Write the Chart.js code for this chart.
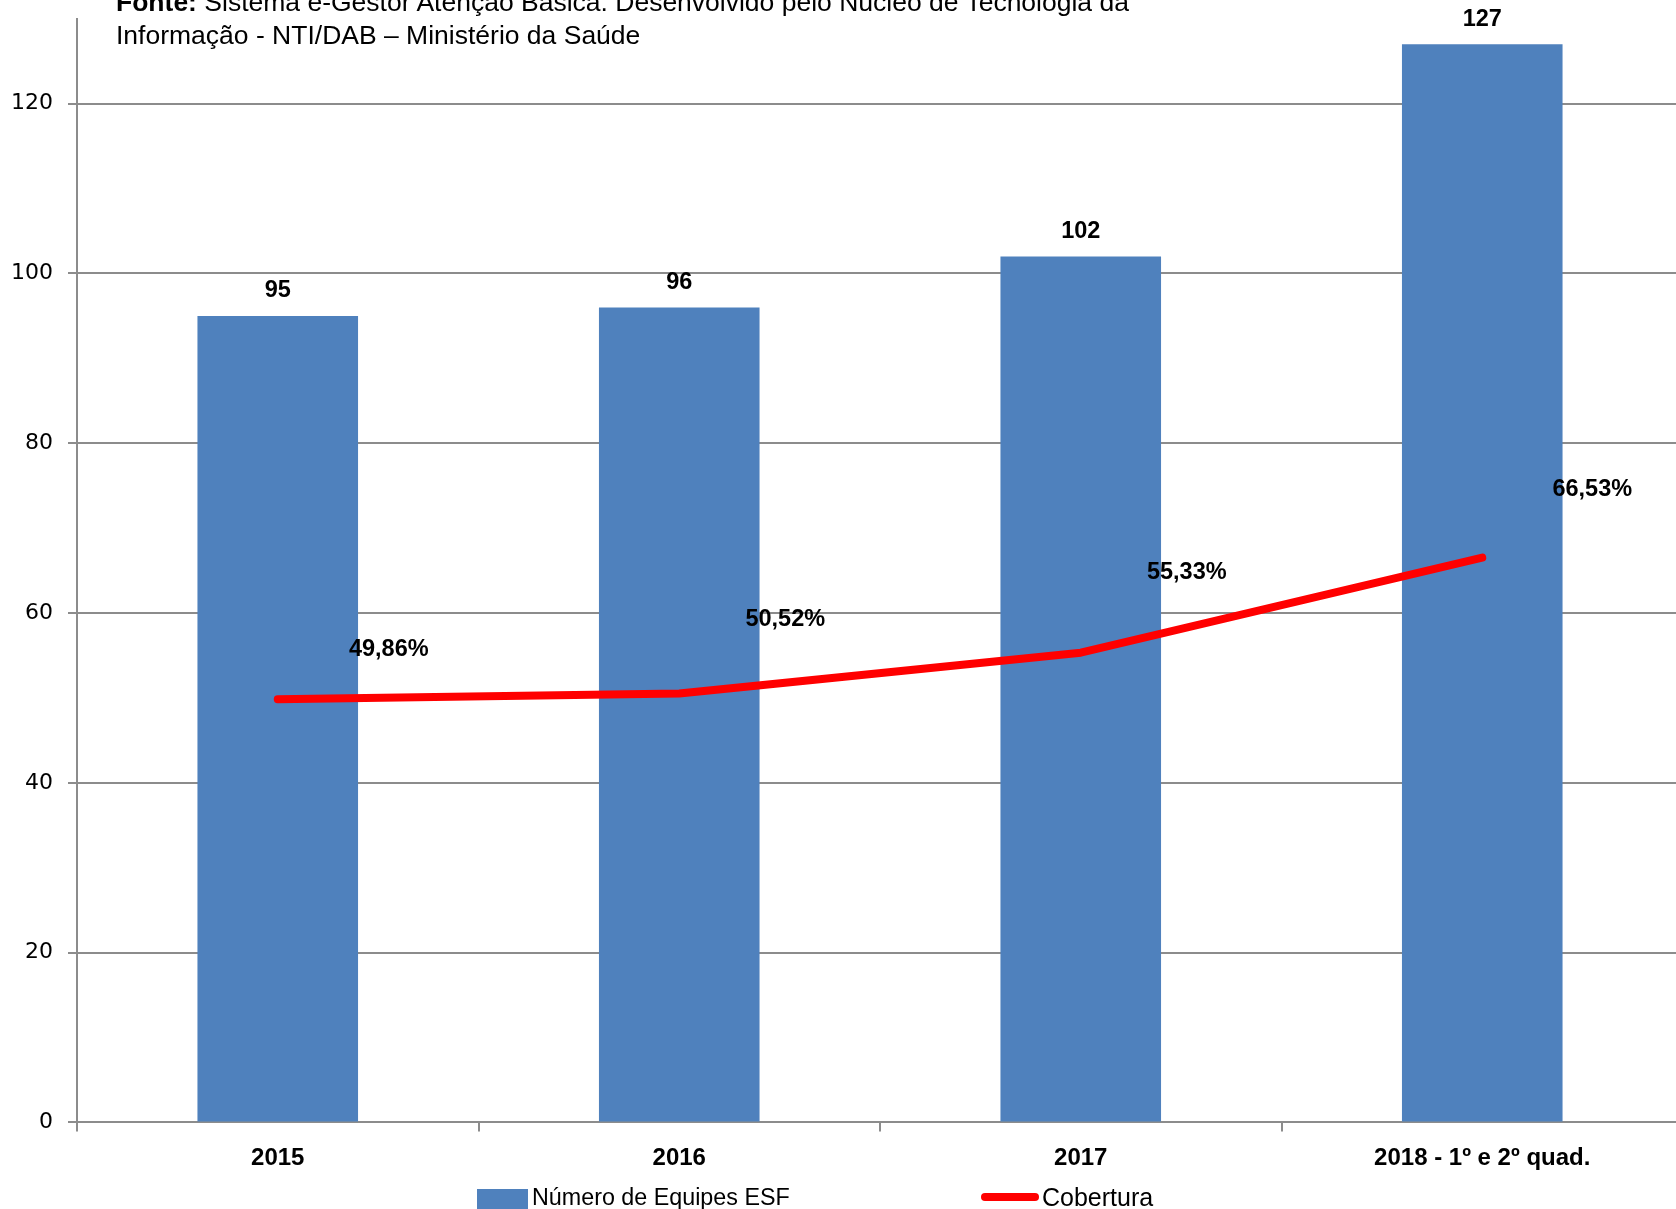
<!DOCTYPE html>
<html>
<head>
<meta charset="utf-8">
<script src="https://cdn.jsdelivr.net/npm/chart.js@4/dist/chart.umd.min.js"></script>
<style>
  html, body { margin: 0; padding: 0; background: #fff; overflow: hidden; }
  #wrap { position: absolute; left: 0; top: 0; width: 1683px; height: 1209px; }
  .t { position: absolute; left: 116px; font-family: "Liberation Sans Narrow", "Liberation Sans", Arial, sans-serif; font-size: 26.5px; color: #000; white-space: nowrap; line-height: 33px; }
  .leg { position: absolute; font-family: "Liberation Sans Narrow", "Liberation Sans", Arial, sans-serif; font-size: 23.3px; color: #000; white-space: nowrap; line-height: 28px; }
</style>
</head>
<body>
<div id="wrap"><canvas id="c"></canvas></div>
<div class="t" style="top:-14px;"><b>Fonte:</b> Sistema e-Gestor Atenção Básica. Desenvolvido pelo Núcleo de Tecnologia da</div>
<div class="t" style="top:19px;">Informação - NTI/DAB – Ministério da Saúde</div>
<div style="position:absolute;left:477px;top:1189px;width:51px;height:22px;background:#4F81BD;"></div>
<div class="leg" style="left:532px;top:1183px;">Número de Equipes ESF</div>
<div style="position:absolute;left:981px;top:1193px;width:58px;height:8px;background:#FF0000;border-radius:4px;"></div>
<div class="leg" style="left:1042px;top:1183px;font-size:25px;">Cobertura</div>
<script>
const categories = ["2015", "2016", "2017", "2018 - 1º e 2º quad."];
const equipesESF = [95, 96, 102, 127];
const cobertura = [49.86, 50.52, 55.33, 66.53];
const coberturaLabels = ["49,86%", "50,52%", "55,33%", "66,53%"];
const yTicks = [0, 20, 40, 60, 80, 100, 120];

const labelFont = 'bold 23.5px "Liberation Sans Narrow", "Liberation Sans", Arial, sans-serif';

const labelsPlugin = {
  id: 'valueLabels',
  afterDatasetsDraw(chart) {
    const ctx = chart.ctx;
    ctx.save();
    ctx.font = labelFont;
    ctx.fillStyle = '#000';
    ctx.textAlign = 'center';
    ctx.textBaseline = 'middle';
    const barMeta = chart.getDatasetMeta(0);
    barMeta.data.forEach((el, i) => {
      ctx.fillText(String(equipesESF[i]), el.x, el.y - 25);
    });
    const lineMeta = chart.getDatasetMeta(1);
    const offs = [[111, -50], [106, -74], [106, -80], [110, -68]];
    lineMeta.data.forEach((el, i) => {
      ctx.fillText(coberturaLabels[i], el.x + offs[i][0], el.y + offs[i][1]);
    });
    ctx.restore();
  }
};

new Chart(document.getElementById('c'), {
  data: {
    labels: categories,
    datasets: [
      {
        type: 'bar',
        label: 'Número de Equipes ESF',
        data: equipesESF,
        backgroundColor: '#4F81BD',
        borderWidth: 0,
        barPercentage: 0.4,
        categoryPercentage: 1.0,
        order: 2
      },
      {
        type: 'line',
        label: 'Cobertura',
        data: cobertura,
        borderColor: '#FF0000',
        borderWidth: 8,
        pointRadius: 0,
        tension: 0,
        borderCapStyle: 'round',
        borderJoinStyle: 'round',
        fill: false,
        order: 1
      }
    ]
  },
  options: {
    responsive: true,
    maintainAspectRatio: false,
    animation: false,
    layout: { padding: { top: 18.8, left: 0, right: 0, bottom: 0 } },
    plugins: { legend: { display: false }, tooltip: { enabled: false } },
    scales: {
      x: {
        offset: true,
        grid: { display: true, drawOnChartArea: false, drawTicks: true, tickLength: 9, color: '#8C8C8C', lineWidth: 2, offset: true },
        border: { display: true, color: '#8C8C8C', width: 2 },
        ticks: { color: '#000', font: { family: '"Liberation Sans Narrow", "Liberation Sans", Arial, sans-serif', size: 24, weight: 'bold' }, padding: 13, maxRotation: 0, autoSkip: false },
        afterFit(scale) { scale.height = 1209 - 1122.4; scale.paddingLeft = 0; scale.paddingRight = 0; }
      },
      y: {
        min: 0,
        max: 130,
        afterBuildTicks(scale) { scale.ticks = yTicks.map(v => ({ value: v })); },
        grid: { color: '#8C8C8C', lineWidth: 2, tickLength: 9, drawTicks: true },
        border: { display: true, color: '#8C8C8C', width: 2 },
        ticks: { color: '#000', font: { family: '"DejaVu Sans", Verdana, sans-serif', size: 22 }, padding: 15 },
        afterFit(scale) { scale.width = 77; scale.paddingTop = 0; scale.paddingBottom = 0; }
      }
    }
  },
  plugins: [labelsPlugin]
});
</script>
</body>
</html>
